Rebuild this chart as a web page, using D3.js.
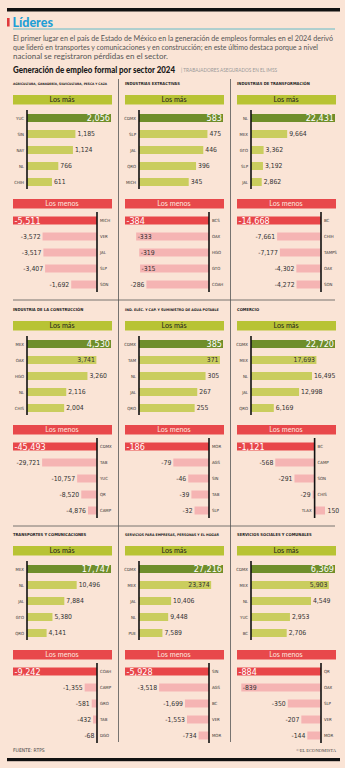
<!DOCTYPE html>
<html><head><meta charset="utf-8">
<script src="https://cdn.jsdelivr.net/npm/d3@7"></script>
<style>body{margin:0;background:#fae4d6;} svg{display:block}</style>
</head><body><svg id="c" width="345" height="768"></svg>
<script>
const sectors = [
  "AGRICULTURA, GANADERÍA, SILVICULTURA, PESCA Y CAZA",
  "INDUSTRIAS EXTRACTIVAS",
  "INDUSTRIAS DE TRANSFORMACIÓN",
  "INDUSTRIA DE LA CONSTRUCCIÓN",
  "IND. ELÉC. Y CAP. Y SUMINISTRO DE AGUA POTABLE",
  "COMERCIO",
  "TRANSPORTES Y COMUNICACIONES",
  "SERVICIOS PARA EMPRESAS, PERSONAS Y EL HOGAR",
  "SERVICIOS SOCIALES Y COMUNALES"
];
const masStates = [
  ["YUC","SIN","NAY","NL","CHIH"],
  ["CDMX","SLP","JAL","QRO","MICH"],
  ["NL","MEX","GTO","SLP","JAL"],
  ["MEX","OAX","HGO","NL","CHIS"],
  ["CDMX","TAM","NL","JAL","QRO"],
  ["CDMX","MEX","NL","JAL","QRO"],
  ["MEX","NL","JAL","GTO","QRO"],
  ["CDMX","MEX","JAL","NL","PUE"],
  ["CDMX","MEX","NL","YUC","BC"]
];
const masValues = [
  [2056,1185,1124,766,611],
  [583,475,446,396,345],
  [22431,9664,3362,3192,2862],
  [4530,3741,3260,2116,2004],
  [385,371,305,267,255],
  [22720,17693,16495,12998,6169],
  [17747,10496,7884,5380,4141],
  [27216,23374,10406,9448,7589],
  [6369,5903,4549,2953,2706]
];
const menosStates = [
  ["MICH","VER","JAL","SLP","SON"],
  ["BCS","OAX","HGO","GTO","COAH"],
  ["BC","CHIH","TAMPS","OAX","SON"],
  ["CDMX","TAB","YUC","QR","CAMP"],
  ["MOR","AGS","SIN","TAB","SLP"],
  ["BC","CAMP","SON","CHIS","TLAX"],
  ["COAH","CAMP","GRO","TAB","DGO"],
  ["SIN","AGS","BC","VER","MOR"],
  ["QR","OAX","SLP","VER","MOR"]
];
const menosValues = [
  [-5511,-3572,-3517,-3407,-1692],
  [-384,-333,-319,-315,-286],
  [-14668,-7661,-7177,-4302,-4272],
  [-45493,-29721,-10757,-8520,-4876],
  [-186,-79,-46,-39,-32],
  [-1121,-568,-291,-29,150],
  [-9242,-1355,-581,-432,-68],
  [-5928,-3518,-1699,-1553,-734],
  [-884,-839,-350,-207,-144]
];
const paragraph = [
  "El primer lugar en el país de Estado de México en la generación de empleos formales en el 2024 derivó",
  "que lideró en transportes y comunicaciones y en construcción; en este último destaca porque a nivel",
  "nacional se registraron pérdidas en el sector."
];

const C = {
  bg:"#fae4d6", masHead:"#b8c334", masTop:"#6f8e2b", masBar:"#cacd5e",
  menosHead:"#e8484b", menosTop:"#e84649", menosBar:"#f5b4b3"
};
const NUM = "'Liberation Sans Narrow','DejaVu Sans Condensed',sans-serif";
const SANS = "Lato,'Open Sans',sans-serif";
const fmt = v => (v < 0 ? "-" : "") + d3.format(",")(Math.abs(v));

const svg = d3.select("#c");
svg.append("rect").attr("width",345).attr("height",768).attr("fill",C.bg);

// Header
svg.append("rect").attr("x",7).attr("y",8).attr("width",333).attr("height",3.5).attr("fill","#111");
svg.append("rect").attr("x",7).attr("y",18).attr("width",2.6).attr("height",8.5).attr("fill","#e0393c");
svg.append("text").attr("x",12.5).attr("y",26.5).text("Líderes")
  .attr("font-family",SANS).attr("font-weight",900).attr("font-size",12.5).attr("fill","#1f9fd6");
svg.append("line").attr("x1",13).attr("x2",335).attr("y1",29).attr("y2",29)
  .attr("stroke","#52b6c6").attr("stroke-width",0.9);
const pl = [320, 305, 155];
paragraph.forEach((s,i)=>{
  svg.append("text").attr("x",13).attr("y",41+i*9).text(s)
    .attr("font-family",SANS).attr("font-size",6.6).attr("fill","#555")
    .attr("textLength",pl[i]).attr("lengthAdjust","spacingAndGlyphs");
});
svg.append("text").attr("x",13).attr("y",72.5).text("Generación de empleo formal por sector 2024")
  .attr("font-family",SANS).attr("font-weight",900).attr("font-size",8.6).attr("fill","#1a1a1a")
  .attr("textLength",162).attr("lengthAdjust","spacingAndGlyphs");
svg.append("text").attr("x",181).attr("y",72).text("| TRABAJADORES ASEGURADOS EN EL IMSS")
  .attr("font-family",SANS).attr("font-size",5.2).attr("fill","#999")
  .attr("textLength",96).attr("lengthAdjust","spacingAndGlyphs");

// Grid lines
const colX = [13, 125, 237], colW = 98;
const headY = [95, 321, 546];
[118.5, 230.5].forEach(x=>{
  svg.append("line").attr("x1",x).attr("x2",x).attr("y1",79).attr("y2",742)
    .attr("stroke","#555").attr("stroke-width",0.8);
});
[0,1].forEach(r=>{
  svg.append("line").attr("x1",13).attr("x2",335).attr("y1",headY[r]+205).attr("y2",headY[r]+205)
    .attr("stroke","#555").attr("stroke-width",0.8);
});

function panel(p){
  const x0 = colX[p%3], H = headY[Math.floor(p/3)];
  const g = svg.append("g");
  const tt = g.append("text").attr("x",x0).attr("y",H-10.5).text(sectors[p])
    .attr("font-family",NUM).attr("font-weight",700).attr("font-size",4.1).attr("fill","#222");
  const tl = tt.node().getComputedTextLength();
  if (tl > colW - 4) tt.attr("font-size", 4.1 * (colW - 4) / tl);

  // Los más
  g.append("rect").attr("x",x0).attr("y",H).attr("width",colW+1).attr("height",9.5).attr("fill",C.masHead);
  g.append("text").attr("x",x0+colW/2).attr("y",H+7.3).attr("text-anchor","middle").text("Los más")
    .attr("font-family",SANS).attr("font-size",7.2).attr("fill","#1d1d1d");
  const ms = masStates[p], mv = masValues[p];
  const y1 = d3.scaleBand().domain(ms).range([H+15,H+95]).paddingInner(0.5).paddingOuter(0.25);
  const x1 = d3.scaleLinear().domain([0,d3.max(mv)]).range([x0+14,x0+colW]);
  ms.forEach((s,i)=>{
    const v = mv[i], yy = y1(s), bw = y1.bandwidth();
    g.append("rect").attr("x",x1(0)).attr("y",yy).attr("width",x1(v)-x1(0)).attr("height",bw)
      .attr("fill", i===0 ? C.masTop : C.masBar);
    g.append("text").attr("x",x1(0)-3).attr("y",yy+bw/2+1.5).attr("text-anchor","end").text(s)
      .attr("font-family",NUM).attr("font-size",4.3).attr("fill","#333");
    const t = g.append("text").text(fmt(v)).attr("font-family",NUM)
      .attr("font-size", i===0 ? 9 : 6.8).attr("y", yy+bw/2+(i===0?3.2:2.4));
    const w = t.node().getComputedTextLength();
    if (i===0) t.attr("x",x1(v)-1).attr("text-anchor","end").attr("fill","#fff");
    else if (x1(v)+2+w > x0+colW+1) t.attr("x",x1(v)-1.5).attr("text-anchor","end").attr("fill","#333");
    else t.attr("x",x1(v)+2).attr("text-anchor","start").attr("fill","#333");
  });
  g.append("line").attr("x1",x1(0)).attr("x2",x1(0)).attr("y1",H+15).attr("y2",H+94)
    .attr("stroke","#111").attr("stroke-width",1.6);

  // Los menos
  const M = H+104;
  g.append("rect").attr("x",x0).attr("y",M).attr("width",colW+1).attr("height",9.5).attr("fill",C.menosHead);
  g.append("text").attr("x",x0+colW/2).attr("y",M+7.3).attr("text-anchor","middle").text("Los menos")
    .attr("font-family",SANS).attr("font-size",7.2).attr("fill","#fde6df");
  const ns = menosStates[p], nv = menosValues[p];
  const maxV = d3.max(nv);
  const y2 = d3.scaleBand().domain(ns).range([M+13.5,M+93.5]).paddingInner(0.5).paddingOuter(0.25);
  const x2 = d3.scaleLinear().domain([d3.min(nv), Math.max(0,maxV)])
    .range([x0, x0 + (maxV > 0 ? 88 : 84)]);
  const ax = x2(0);
  ns.forEach((s,i)=>{
    const v = nv[i], yy = y2(s), bw = y2.bandwidth();
    const xa = x2(Math.min(v,0)), xb = x2(Math.max(v,0));
    g.append("rect").attr("x",xa).attr("y",yy).attr("width",xb-xa).attr("height",bw)
      .attr("fill", i===0 ? C.menosTop : C.menosBar);
    const st = g.append("text").attr("y",yy+bw/2+1.5).text(s)
      .attr("font-family",NUM).attr("font-size",4.3).attr("fill","#333");
    if (v > 0) st.attr("x",ax-3).attr("text-anchor","end"); else st.attr("x",ax+3).attr("text-anchor","start");
    const t = g.append("text").text(fmt(v)).attr("font-family",NUM)
      .attr("font-size", i===0 ? 9 : 6.8).attr("y", yy+bw/2+(i===0?3.2:2.4));
    const w = t.node().getComputedTextLength();
    if (i===0) t.attr("x",xa+1.5).attr("text-anchor","start").attr("fill","#fff");
    else if (v > 0) t.attr("x",xb+2.5).attr("text-anchor","start").attr("fill","#333");
    else if (xa-2-w >= x0) t.attr("x",xa-2).attr("text-anchor","end").attr("fill","#333");
    else t.attr("x",xa+1.5).attr("text-anchor","start").attr("fill","#333");
  });
  g.append("line").attr("x1",ax).attr("x2",ax).attr("y1",M+13).attr("y2",M+93)
    .attr("stroke","#111").attr("stroke-width",1.6);
}
for (let p=0;p<9;p++) panel(p);

// Footer
svg.append("text").attr("x",13).attr("y",752).text("FUENTE: RTPS")
  .attr("font-family",NUM).attr("font-size",5).attr("fill","#444");
svg.append("text").attr("x",336).attr("y",752).attr("text-anchor","end").text("©EL ECONOMISTA")
  .attr("font-family","'Liberation Serif',serif").attr("font-size",4.6).attr("fill","#444");
svg.append("rect").attr("x",7).attr("y",758).attr("width",333).attr("height",3.2).attr("fill","#111");
</script></body></html>
